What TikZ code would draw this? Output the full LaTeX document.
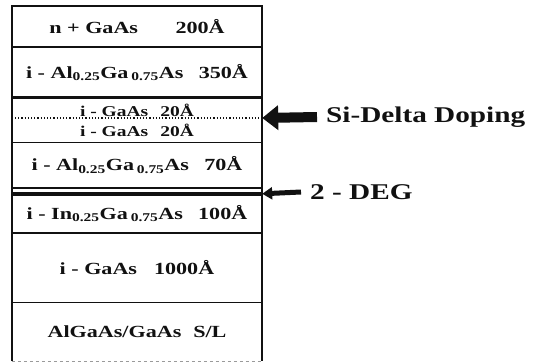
\documentclass[tikz,border=0pt]{standalone}
\usepackage{fontspec}
\usepackage{tikz}
\usetikzlibrary{arrows.meta, positioning}
\newfontfamily\capaFont{Liberation Serif}[FakeStretch=1.3]
\definecolor{tinta}{HTML}{111111}
\definecolor{grisBorde}{HTML}{9A9A9A}

\begin{document}
\begin{tikzpicture}[x=1pt, y=-1pt,
        node distance=0pt,
        capa/.style={minimum width=250pt, inner sep=0pt, text=tinta,
            font=\capaFont\bfseries\fontsize{17}{19}\selectfont},
        capaFina/.style={capa, font=\capaFont\bfseries\fontsize{15}{17}\selectfont},
        nota/.style={inner xsep=9pt, inner ysep=0pt, text=tinta, anchor=west,
            font=\capaFont\bfseries\fontsize{22.5}{26}\selectfont},
        borde/.style={draw=tinta, line width=1.6pt},
        gruesa/.style={-{Triangle[length=16pt,width=24pt]}, tinta, line width=10pt},
        delgada/.style={-{Triangle[length=10pt,width=12pt]}, tinta, line width=5pt}
    ]
        \useasboundingbox (0,0) rectangle (534,361);
        \node[capa, minimum height=41pt] (nGaAs) at (137,26.5) {n + GaAs\hspace{2.2em}200Å};
        \node[capa, minimum height=50pt, below=of nGaAs] (alTop) {i - Al\textsubscript{0.25}Ga\,\textsubscript{0.75}As\hspace{0.9em}350Å};
        \node[capaFina, minimum height=20pt, below=of alTop] (gaUp) {\raisebox{-9pt}[0pt][0pt]{i - GaAs\hspace{0.8em}20Å}};
        \node[capaFina, minimum height=24pt, below=of gaUp] (gaLow) {i - GaAs\hspace{0.8em}20Å};
        \node[capa, minimum height=45pt, below=of gaLow] (alLow) {i - Al\textsubscript{0.25}Ga\,\textsubscript{0.75}As\hspace{0.9em}70Å};
        \node[capa, minimum height=39pt, below=6pt of alLow] (inGa) {i - In\textsubscript{0.25}Ga\,\textsubscript{0.75}As\hspace{0.9em}100Å};
        \node[capa, minimum height=69pt, below=of inGa] (gaThick) {i - GaAs\hspace{1em}1000Å};
        \node[capa, minimum height=58pt, below=of gaThick] (slLayer) {AlGaAs/GaAs\hspace{0.7em}S/L};

        % marco y separaciones
        \draw[borde, line width=2pt] (slLayer.south west) -- (nGaAs.north west) -- (nGaAs.north east) -- (slLayer.south east);
        \draw[grisBorde, dashed, line width=1pt] (slLayer.south west) -- (slLayer.south east);
        \foreach \c in {nGaAs, gaLow, alLow, inGa, gaThick}
            \draw[borde] (\c.south west) -- (\c.south east);
        \draw[borde, line width=3pt] (alTop.south west) -- (alTop.south east);
        \draw[tinta, dotted, line width=1.2pt] (gaUp.south west) -- (gaUp.south east);
        \draw[borde, line width=4pt] (inGa.north west) -- (inGa.north east);

        % etiquetas
        \node[nota] (siLbl) at (317,117) {Si-Delta Doping};
        \node[nota] (degLbl) at (301,192) {2 - DEG};

        \draw[gruesa] (siLbl.west) -- (gaLow.north east);
        \draw[delgada] (degLbl.west) -- (inGa.north east);
    \end{tikzpicture}
\end{document}
